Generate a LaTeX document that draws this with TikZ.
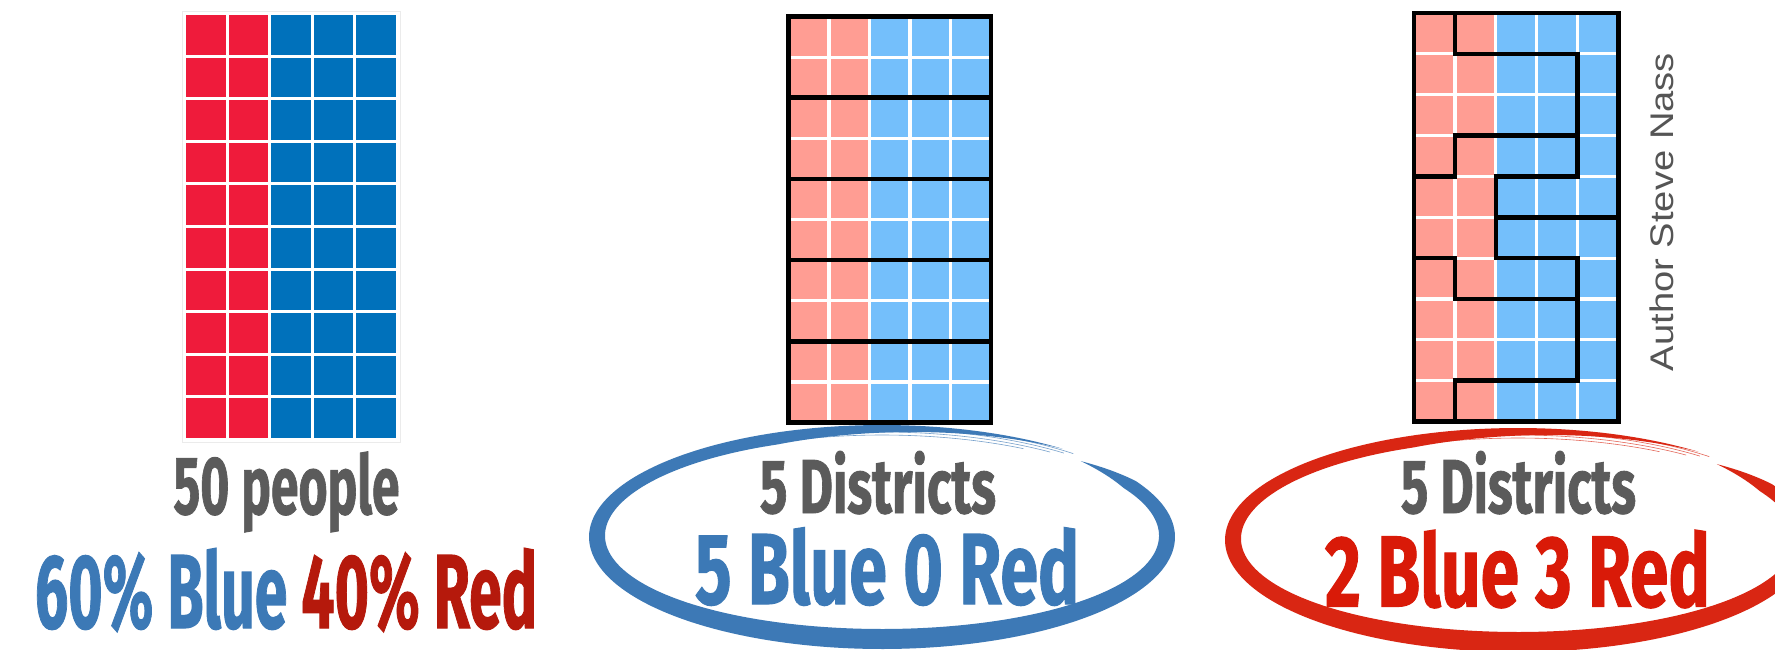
\documentclass[tikz,border=0pt]{standalone}
\usepackage{fontspec}
\usepackage{graphicx}
\newfontfamily\dinf{Fira Sans}[BoldFeatures={FakeBold=1.2}]
\newfontfamily\authf{Liberation Sans}
\definecolor{gridred}{HTML}{EF1B3B}
\definecolor{gridblue}{HTML}{0071BB}
\definecolor{lred}{HTML}{FF9D93}
\definecolor{lblue}{HTML}{74BFFB}
\definecolor{txtgray}{HTML}{5B5B5B}
\definecolor{tblue}{HTML}{3C79B6}
\definecolor{tdred}{HTML}{B5190C}
\definecolor{tred}{HTML}{D91A08}
\definecolor{eblue}{HTML}{3D79B6}
\definecolor{ered}{HTML}{D92613}
\definecolor{authgray}{HTML}{555555}
\newsavebox\fitA
\newsavebox\fitB
% #1 font, #2 target width, #3 target cap height, #4 text
\newcommand\fitbox[4]{%
  \sbox\fitA{#1#4}\sbox\fitB{#1X}%
  \pgfmathsetmacro\fitsx{#2/\the\wd\fitA}%
  \pgfmathsetmacro\fitsy{#3/\the\ht\fitB}%
  \scalebox{\fitsx}[\fitsy]{\usebox\fitA}}
% brush ellipse: #1 cx, #2 cy, #3 colour
\newcommand\brushellipse[3]{%
  \fill[#3] plot[domain=-46:308, samples=220, variable=\t]
      ({#1+(293-(16+4*sin(\t))/2*(1-min(1,(\t+46)/16)))*cos(\t)},
       {#2+(112-(16+4*sin(\t))/2*(1-min(1,(\t+46)/16)))*sin(\t)})
    -- plot[domain=308:-46, samples=220, variable=\t]
      ({#1+(293-(16+4*sin(\t))/2*(1+min(1,(\t+46)/16))*min(1,(308-\t)/60))*cos(\t)},
       {#2+(112-(16+4*sin(\t))/2*(1+min(1,(\t+46)/16))*min(1,(308-\t)/60))*sin(\t)})
    -- cycle;
  \foreach \o/\e in {1.5/311,4/309,7/306,10/300}{
    \draw[#3, line width=0.6, opacity=0.7] plot[domain=250:\e, samples=60, variable=\t]
      ({#1+(293-\o)*cos(\t)},{#2+(112-\o)*sin(\t)});
  }}
\tikzset{
  dline/.style={black, line width=4.6, line cap=rect, line join=miter},
  wline/.style={white, line width=3.2},
  bigtext/.style={inner sep=0pt, anchor=base},
}
\begin{document}
\begin{tikzpicture}[x=1pt, y=-1pt]
\useasboundingbox (0,0) rectangle (1775,649);
\fill[white] (0,0) rectangle (1775,649);

% ellipses
\brushellipse{882}{537}{eblue}
\brushellipse{1518}{540}{ered}

% grid 1
\draw[black!8, line width=0.8] (182,11) rectangle (400,442.5);
\begin{scope}[shift={(184.5,13.5)}, x=42.6pt, y=-42.6pt]
  \foreach \i/\c in {0/gridred,1/gridred,2/gridblue,3/gridblue,4/gridblue}{
    \foreach \j in {0,...,9}{
      \fill[\c] (\i+0.035,\j+0.035) rectangle (\i+0.965,\j+0.965);
    }}
\end{scope}

% grid 2
\begin{scope}[shift={(788.5,16.5)}, x=40.5pt, y=-40.6pt]
  \fill[lred] (0,0) rectangle (2,10);
  \fill[lblue] (2,0) rectangle (5,10);
  \foreach \i in {1,...,4} \draw[wline] (\i,0) -- (\i,10);
  \foreach \j in {1,...,9} \draw[wline] (0,\j) -- (5,\j);
  \foreach \j in {2,4,6,8} \draw[dline] (0,\j) -- (5,\j);
  \draw[dline] (0,0) rectangle (5,10);
\end{scope}

% grid 3
\begin{scope}[shift={(1414,13)}, x=40.9pt, y=-40.85pt]
  \fill[lred] (0,0) rectangle (2,10);
  \fill[lblue] (2,0) rectangle (5,10);
  \foreach \i in {1,...,4} \draw[wline] (\i,0) -- (\i,10);
  \foreach \j in {1,...,9} \draw[wline] (0,\j) -- (5,\j);
  \draw[dline] (1,0) -- (1,1) -- (4,1) -- (4,4) -- (2,4) -- (2,6) -- (4,6) -- (4,9) -- (1,9) -- (1,10);
  \draw[dline] (0,4) -- (1,4) -- (1,3) -- (4,3);
  \draw[dline] (2,5) -- (5,5);
  \draw[dline] (0,6) -- (1,6) -- (1,7) -- (4,7);
  \draw[dline] (0,0) rectangle (5,10);
\end{scope}

% texts
\node[bigtext] (people) at (286.5,514)
  {\fitbox{\dinf\bfseries}{226}{57}{\color{txtgray}50 people}};
\node[bigtext] (pct) at (286,628)
  {\fitbox{\dinf\bfseries}{502}{73}{\color{tblue}60\% Blue \color{tdred}40\% Red}};
\node[bigtext] (dist1) at (878,513)
  {\fitbox{\dinf\bfseries}{236}{53}{\color{txtgray}5 Districts}};
\node[bigtext] (res1) at (887,604)
  {\fitbox{\dinf\bfseries}{384}{70}{\color{tblue}5 Blue 0 Red}};
\node[bigtext] (dist2) at (1518.5,513)
  {\fitbox{\dinf\bfseries}{235}{53}{\color{txtgray}5 Districts}};
\node[bigtext] (res2) at (1517.5,606.5)
  {\fitbox{\dinf\bfseries}{385}{70}{\color{tred}2 Blue 3 Red}};
\node[inner sep=0pt, anchor=base, rotate=90] (author) at (1673,212)
  {\fitbox{\authf}{318}{22.5}{\color{authgray}Author Steve Nass}};
\end{tikzpicture}
\end{document}
